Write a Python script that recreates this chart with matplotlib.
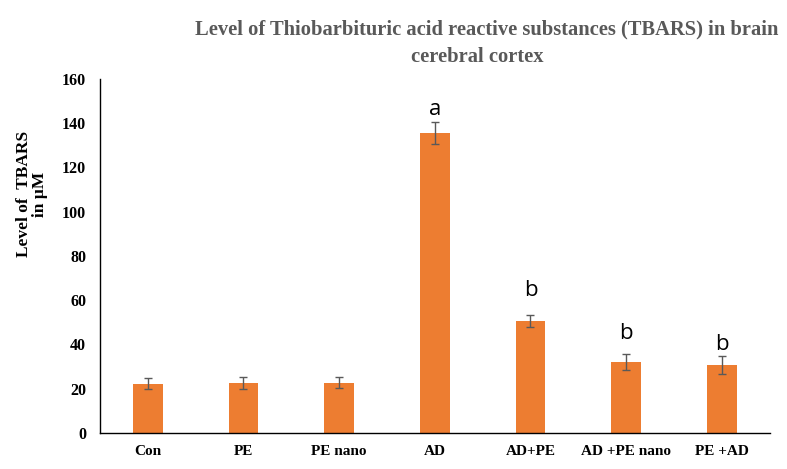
import matplotlib
matplotlib.use("Agg")
import matplotlib.pyplot as plt
import numpy as np

categories = ["Con", "PE", "PE nano", "AD", "AD+PE", "AD +PE nano", "PE +AD"]
values = [22.3, 22.6, 22.8, 135.6, 50.6, 32.1, 30.7]
errors = [2.5, 2.8, 2.5, 5.0, 2.7, 3.5, 4.0]
letters = ["", "", "", "a", "b", "b", "b"]
yticks = [0, 20, 40, 60, 80, 100, 120, 140, 160]

# vertical offsets (points) of the significance letters above the error bars
letter_offsets = [0, 0, 0, 1.5, 10, 7, 1.0]

fig = plt.figure(figsize=(7.87, 4.69), dpi=100)
ax = fig.add_axes([0.127, 0.0768, 0.851, 0.7548])

x = np.arange(len(categories))
ax.bar(x, values, width=0.31, color="#ED7D31", zorder=2)
ax.errorbar(x, values, yerr=errors, fmt="none", ecolor="#595959",
            elinewidth=1.0, capsize=3, capthick=1.0, zorder=3)

for xi, v, e, lab, off in zip(x, values, errors, letters, letter_offsets):
    if lab:
        ax.annotate(lab, (xi, v + e), xytext=(0, off), textcoords="offset points",
                    ha="center", va="bottom", fontsize=16, family="Open Sans",
                    color="black")

ax.set_xlim(-0.5, len(categories) - 0.5)
ax.set_ylim(0, 160)
ax.set_yticks(yticks)
ax.set_yticklabels([str(t) for t in yticks], fontfamily="Liberation Serif",
                   fontweight="bold", fontsize=11.5)
ax.set_xticks(x)
ax.set_xticklabels(categories, fontfamily="Liberation Serif",
                   fontweight="bold", fontsize=11)
ax.tick_params(axis="both", length=0)
ax.tick_params(axis="y", pad=10)
ax.tick_params(axis="x", pad=9)

for s in ["top", "right"]:
    ax.spines[s].set_visible(False)
for s in ["left", "bottom"]:
    ax.spines[s].set_color("#000000")
    ax.spines[s].set_linewidth(1.0)

fig.text(32 / 787, 1 - 194 / 469, "Level of  TBARS\nin \u00b5M",
         rotation=90, ha="center", va="center", multialignment="center",
         fontfamily="Liberation Serif", fontweight="bold", fontsize=12.5,
         linespacing=1.05)

fig.text(487 / 787, 1 - 34.5 / 469,
         "Level of Thiobarbituric acid reactive substances (TBARS) in brain",
         ha="center", va="baseline", fontfamily="Liberation Serif",
         fontweight="bold", fontsize=14.8, color="#595959")
fig.text(477 / 787, 1 - 62 / 469, "cerebral cortex",
         ha="center", va="baseline", fontfamily="Liberation Serif",
         fontweight="bold", fontsize=14.8, color="#595959")

fig.savefig("out.png", dpi=100)
